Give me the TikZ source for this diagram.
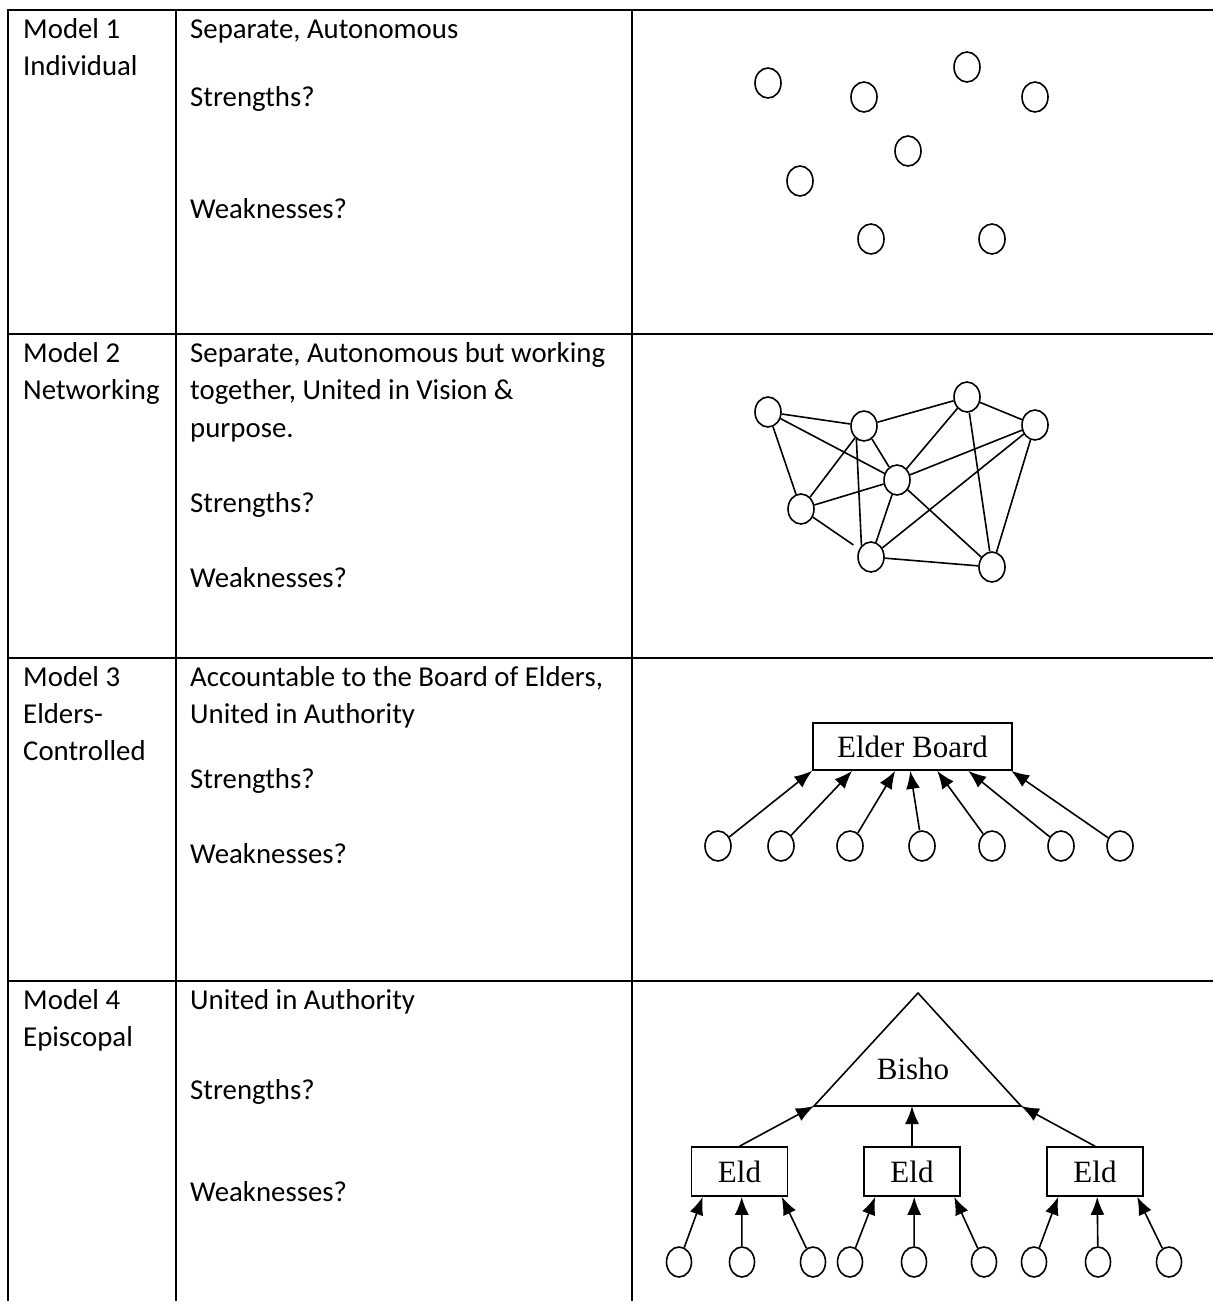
\documentclass[tikz,border=0pt]{standalone}
\usepackage{fontspec}
\setmainfont{Carlito}
\newfontfamily\timesfont{Liberation Serif}
\usetikzlibrary{arrows.meta,shapes.geometric}

\newcommand{\cellfont}{\fontsize{28.8}{37.5}\selectfont}
\newcommand{\boxfont}{\timesfont\fontsize{31}{36}\selectfont}

\begin{document}
\begin{tikzpicture}[x=1pt, y=-1pt]
	\tikzstyle{rule} = [line width=2.3pt]
	\tikzstyle{cell} = [anchor=base west, inner sep=0pt, font=\cellfont]
	\tikzstyle{member} = [draw, ellipse, line width=1.6pt, minimum width=26pt, minimum height=30pt, inner sep=0pt]
	\tikzstyle{board} = [draw, rectangle, line width=1.6pt, inner sep=0pt, font=\boxfont]
	\tikzstyle{link} = [line width=1.6pt]
	\tikzstyle{arr} = [-{Latex[length=18pt,width=14pt]}, line width=1.6pt]

	\useasboundingbox (0,0) rectangle (1213,1301);

	% table rules
	\draw[rule] (1213,10) -- (8,10) -- (8,1301);
	\foreach \y in {334,658,981}
		\draw[rule] (8,\y) -- (1213,\y);
	\foreach \x in {176,632}
		\draw[rule] (\x,10) -- (\x,1301);

	% model 1
	\node[cell] (name1a) at (23,38) {Model 1};
	\node[cell] (name1b) at (23,75.5) {Individual};
	\node[cell] (text1a) at (190,38) {Separate, Autonomous};
	\node[cell] (text1b) at (190,106) {Strengths?};
	\node[cell] (text1c) at (190,218) {Weaknesses?};

	\path
	node[member] (i1) at (768,83) {}
	node[member] (i2) at (864,97) {}
	node[member] (i3) at (967,67) {}
	node[member] (i4) at (1035,97) {}
	node[member] (i5) at (908,151) {}
	node[member] (i6) at (800,181) {}
	node[member] (i7) at (871,239) {}
	node[member] (i8) at (992,239) {};

	% model 2
	\node[cell] (name2a) at (23,362) {Model 2};
	\node[cell] (name2b) at (23,399) {Networking};
	\node[cell] (text2a) at (190,362) {Separate, Autonomous but working};
	\node[cell] (text2b) at (190,399) {together, United in Vision \&};
	\node[cell] (text2c) at (190,437) {purpose.};
	\node[cell] (text2d) at (190,512) {Strengths?};
	\node[cell] (text2e) at (190,587) {Weaknesses?};

	\path[link]
	node[member] (n1) at (768,412) {}
	node[member] (n2) at (864,426) {}
	node[member] (n3) at (967,397) {}
	node[member] (n4) at (1035,425) {}
	node[member] (n5) at (897,480) {}
	node[member] (n6) at (801,509) {}
	node[member] (n7) at (871,557) {}
	node[member] (n8) at (992,567) {}

	(n1) edge (n2)
	(n1) edge (n5)
	(n1) edge (n6)
	(n2) edge (n3)
	(n2) edge (n5)
	(n2) edge (n6)
	(n2.240) edge (n7.130)
	(n3) edge (n4)
	(n3) edge (n5)
	(n3) edge (n8)
	(n4) edge (n5)
	(n4) edge (n7)
	(n4) edge (n8)
	(n5) edge (n6)
	(n5) edge (n7)
	(n5) edge (n8)
	(n7) edge (n8)
	(n6) edge[shorten >=7pt] (n7)
	;

	% model 3
	\node[cell] (name3a) at (23,686) {Model 3};
	\node[cell] (name3b) at (23,723) {Elders-};
	\node[cell] (name3c) at (23,760) {Controlled};
	\node[cell] (text3a) at (190,686) {Accountable to the Board of Elders,};
	\node[cell] (text3b) at (190,723) {United in Authority};
	\node[cell] (text3c) at (190,788) {Strengths?};
	\node[cell] (text3d) at (190,863) {Weaknesses?};

	\node[board, minimum width=199pt, minimum height=47pt] (eb) at (912.5,746.5) {Elder Board};
	\foreach \x/\s [count=\i] in {718/0, 781/40, 850/83, 922/98, 992/125, 1061/156, 1120/199} {
		\node[member] (m\i) at (\x,846) {};
		\draw[arr] (m\i) -- ([xshift=\s pt]eb.south west);
	}

	% model 4
	\node[cell] (name4a) at (23,1009) {Model 4};
	\node[cell] (name4b) at (23,1046) {Episcopal};
	\node[cell] (text4a) at (190,1009) {United in Authority};
	\node[cell] (text4b) at (190,1099) {Strengths?};
	\node[cell] (text4c) at (190,1201) {Weaknesses?};

	\coordinate (apex) at (918,993);
	\coordinate (bl) at (814,1106);
	\coordinate (br) at (1021,1106);
	\draw[link, line join=miter] (apex) -- (bl) -- (br) -- cycle;
	\node[font=\boxfont] (bishop) at (913,1069) {Bisho};

	\node[board, minimum width=96pt, minimum height=49pt] (e1) at (739.5,1171.5) {Eld};
	\node[board, minimum width=96pt, minimum height=49pt] (e2) at (912,1171.5) {Eld};
	\node[board, minimum width=96pt, minimum height=49pt] (e3) at (1095,1171.5) {Eld};

	\draw[arr] (e1.north) -- (bl);
	\draw[arr] (e2.north) -- (e2.north |- bl);
	\draw[arr] (e3.north) -- (br);

	\foreach \x/\e/\s [count=\i] in {679/e1/12, 742/e1/51, 813/e1/91, 850/e2/12, 914/e2/51, 984/e2/91, 1034/e3/12, 1098/e3/51, 1169/e3/91} {
		\node[member, minimum width=25pt] (p\i) at (\x,1262) {};
		\draw[arr] (p\i) -- ([xshift=\s pt]\e.south west);
	}
\end{tikzpicture}
\end{document}
